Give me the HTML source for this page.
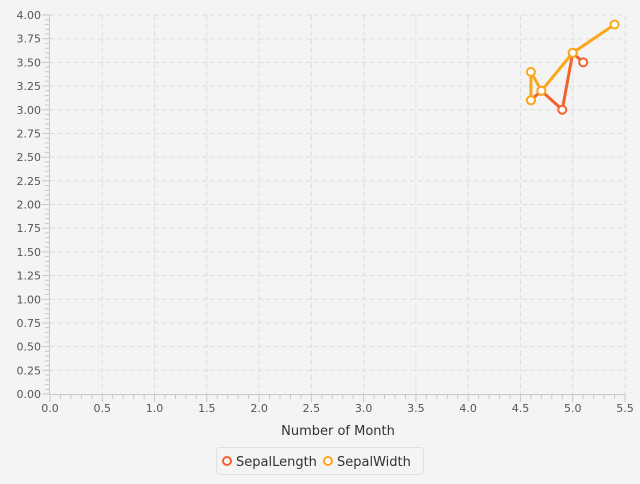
<!DOCTYPE html>
<html><head><meta charset="utf-8"><style>
body{margin:0;background:#f4f4f4;font-family:"DejaVu Sans","Liberation Sans",sans-serif;}
svg text{font-family:"DejaVu Sans","Liberation Sans",sans-serif;}
</style></head><body>
<svg id="c" width="640" height="480" xmlns="http://www.w3.org/2000/svg"></svg>
<script>
const xTicks=[0,0.5,1,1.5,2,2.5,3,3.5,4,4.5,5,5.5];
const yTicks=[0,0.25,0.5,0.75,1,1.25,1.5,1.75,2,2.25,2.5,2.75,3,3.25,3.5,3.75,4];
const lenX=[4.6,4.7,4.9,5.0,5.1];
const lenY=[3.1,3.2,3.0,3.6,3.5];
const widX=[4.6,4.6,4.7,5.0,5.4];
const widY=[3.1,3.4,3.2,3.6,3.9];
const seriesNames=["SepalLength","SepalWidth"];
const L=50,R=625,T=15,B=394;
const sx=v=>L+v/5.5*(R-L), sy=v=>B-v/4*(B-T);
const svg=document.getElementById('c');const NS="http://www.w3.org/2000/svg";
function el(t,a,p){const e=document.createElementNS(NS,t);for(const k in a)e.setAttribute(k,a[k]);(p||svg).appendChild(e);return e;}
const grid=el('g',{});


xTicks.forEach(v=>{if(v>0)el('line',{x1:sx(v),x2:sx(v),y1:T,y2:B,stroke:'#dedede','stroke-dasharray':'5,3'},grid);});
yTicks.forEach(v=>{if(v>0)el('line',{x1:L,x2:R,y1:sy(v),y2:sy(v),stroke:'#dedede','stroke-dasharray':'5,3'},grid);});
const ax=el('g',{stroke:'#c8c8c8'});


el('line',{x1:L,x2:R,y1:B+0.5,y2:B+0.5},ax);
el('line',{x1:L-0.5,x2:L-0.5,y1:T,y2:B},ax);
xTicks.forEach((v,i)=>{el('line',{x1:sx(v),x2:sx(v),y1:B,y2:B+8},ax);
 if(i<xTicks.length-1)for(let k=1;k<5;k++){const m=sx(v+k*0.1);el('line',{x1:m,x2:m,y1:B,y2:B+5},ax);}
 const t=el('text',{x:sx(v),y:B+18,'text-anchor':'middle','font-size':11,fill:'#555',stroke:'none'});t.textContent=v.toFixed(1);
 });
yTicks.forEach((v,i)=>{el('line',{x1:L-8,x2:L,y1:sy(v),y2:sy(v)},ax);
 if(i<yTicks.length-1)for(let k=1;k<5;k++){const m=sy(v+k*0.05);el('line',{x1:L-5,x2:L,y1:m,y2:m},ax);}
 const t=el('text',{x:L-9,y:sy(v)+4,'text-anchor':'end','font-size':11,fill:'#555',stroke:'none'});t.textContent=v.toFixed(2);
 });
const xt=el('text',{x:338,y:435,'text-anchor':'middle','font-size':13,fill:'#333'});xt.textContent='Number of Month';

const colors=['#f3622d','#fba71b'];
[[lenX,lenY],[widX,widY]].forEach((s,si)=>{
 const g=el('g',{});
 
 
 el('polyline',{points:s[0].map((x,i)=>sx(x)+','+sy(s[1][i])).join(' '),fill:'none',stroke:colors[si],'stroke-width':3},g);
 s[0].forEach((x,i)=>{const c=el('circle',{cx:sx(x),cy:sy(s[1][i]),r:4,fill:'#fff',stroke:colors[si],'stroke-width':2},g);
  });
});
const lg=el('g',{});


el('rect',{x:216.5,y:447.5,width:207,height:27,rx:3,fill:'#f4f4f4',stroke:'#e0e0e0'},lg);
[[227,'SepalLength'],[328,'SepalWidth']].forEach((e,i)=>{
 const it=el('g',{},lg);
 
 
 el('circle',{cx:e[0],cy:461,r:4,fill:'#fff',stroke:colors[i],'stroke-width':2},it);
 const t=el('text',{x:e[0]+9,y:466,'font-size':13,fill:'#333'},it);t.textContent=e[1];});
</script>
</body></html>
